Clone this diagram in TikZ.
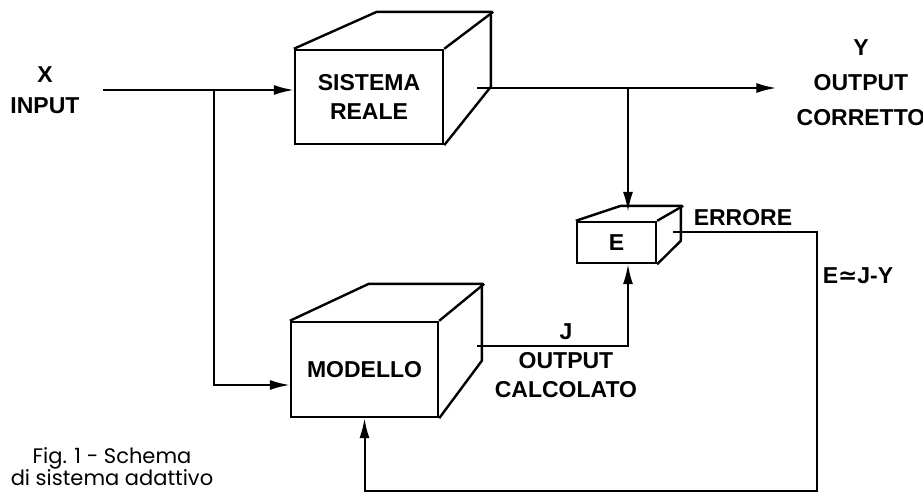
\documentclass[tikz,border=0pt]{standalone}
\usepackage{fontspec}
\setmainfont{Liberation Sans}
\newfontfamily\didafont{Poppins}
\newfontfamily\simbfont{DejaVu Sans}
\usetikzlibrary{
  calc,
  arrows.meta,
  positioning
}

\begin{document}
\begin{tikzpicture}[
            x=0.5pt, y=-0.5pt,
            font=\fontsize{11.5}{14.5}\selectfont\bfseries,
            blocco/.style={rectangle, draw=black, line width=1.2pt, fill=white, inner sep=0pt, align=center},
            faccia/.style={draw=black, line width=1.2pt, line join=miter},
            etichetta/.style={align=center, inner sep=0pt},
            freccia/.style={line width=1pt, -{Latex[length=10pt,width=5pt]}},
            didascalia/.style={font=\didafont\fontsize{10.5}{11}\selectfont, align=center, inner sep=0pt}
        ]
        \useasboundingbox (0,0) rectangle (923,493);

        % Blocchi (faccia frontale)
        \node (sr) [blocco, minimum width=74pt, minimum height=47pt] at (369,97) {SISTEMA\\REALE};
        \node (mod) [blocco, minimum width=73.5pt, minimum height=47.5pt] at (364.5,369.5) {MODELLO};
        \node (e) [blocco, minimum width=39.5pt, minimum height=20.5pt] at (616.5,242.5) {E};

        % Facce superiori e laterali
        \draw [faccia] (sr.north west) -- ++(83,-37) -- ++(114,0) -- ++(0,75) -- (sr.south east);
        \draw [faccia] (sr.north east) -- ++(49,-37);
        \draw [faccia] (mod.north west) -- ++(79,-37) -- ++(113,0) -- ++(0,77) -- (mod.south east);
        \draw [faccia] (mod.north east) -- ++(45,-37);
        \draw [faccia] (e.north west) -- ++(45,-15) -- ++(60,0) -- ++(0,35) -- (e.south east);
        \draw [faccia] (e.north east) -- ++(26,-15);

        % Etichette
        \node (ingresso) [etichetta] at (45,90) {X\\[1pt]INPUT};
        \node (uscita) [etichetta] at (861,83) {Y\\[3pt]OUTPUT\\[3pt]CORRETTO};
        \node (calcolato) [etichetta] at (566,361) {J\\OUTPUT\\CALCOLATO};
        \node (errore) [etichetta] at (743,218) {ERRORE};
        \node (formula) [etichetta] at (858,276) {E{\simbfont ≃}J-Y};
        \node (fig) [didascalia, anchor=south] at (112,486) {Fig. 1 - Schema\\di sistema adattivo};

        % Punti di diramazione
        \coordinate (x0) at (103,90);
        \coordinate (ramo) at (214,90);
        \coordinate (sr_out) at (477,88);
        \coordinate (nodoE) at (628,88);
        \coordinate (mod_out) at (477,346);
        \coordinate (e_out) at (673,232);
        \coordinate (ritorno) at (817,491);

        % Collegamenti
        \draw [freccia] (x0) -- (sr.west |- x0);
        \draw [freccia] (ramo) |- ([yshift=-7.75pt]mod.west);
        \draw [freccia, shorten >=10pt] (sr_out) -- (uscita.west |- sr_out);
        \draw [freccia] (nodoE) -- ($(e.north -| nodoE)+(0,-9)$);
        \draw [freccia] (mod_out) -| (e.south -| nodoE);

        % Retroazione dell'errore
        \draw [freccia] (e_out) -| (ritorno) -| (mod.south);

    \end{tikzpicture}
\end{document}
